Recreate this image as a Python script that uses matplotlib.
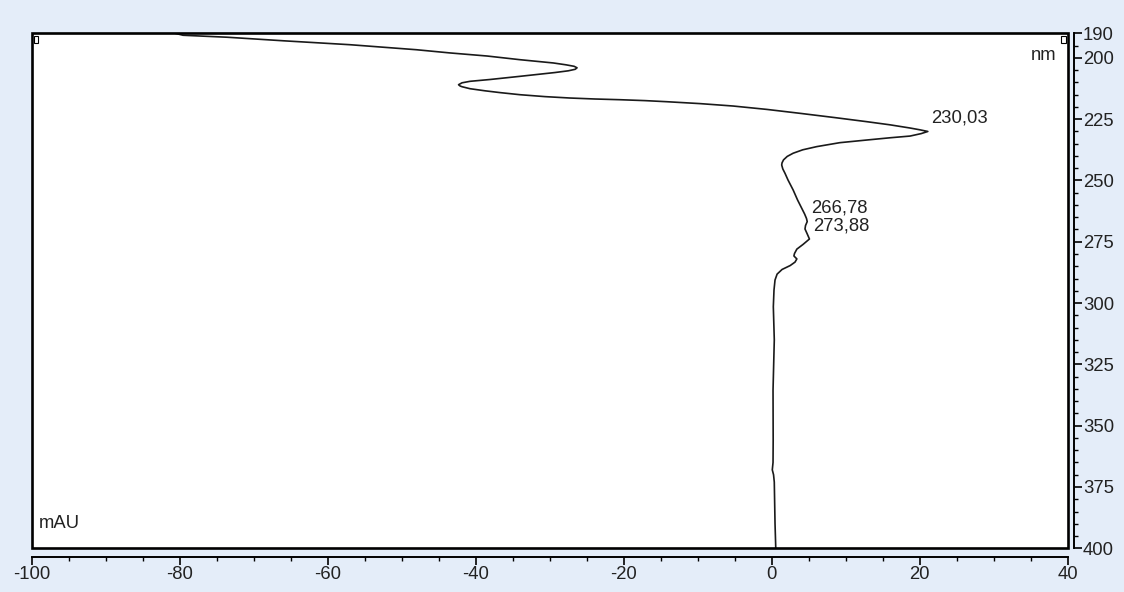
import matplotlib
matplotlib.use("Agg")
import matplotlib.pyplot as plt
from matplotlib.patches import Rectangle
from matplotlib.ticker import MultipleLocator, FixedLocator

plt.rcParams["axes.unicode_minus"] = False

# UV spectrum: absorbance (mAU) against wavelength (nm)
wavelength_nm = [190.0, 190.8, 191.6, 193.05, 194.65, 196.7, 198.0, 199.26, 200.77,
                 202.1, 202.85, 203.46, 204.07, 204.68, 205.3, 206.0, 207.54,
                 208.84, 209.58, 210.19, 210.96, 211.5, 211.78, 212.59, 213.45,
                 214.18, 215.04, 215.82, 216.39, 216.79, 217.08, 217.45, 217.9,
                 218.67, 219.65, 221.04, 222.63, 224.38, 226.05, 227.32, 228.62,
                 229.36, 230.03, 230.9, 231.9, 232.6, 233.5, 234.6, 236.2, 237.5,
                 238.9, 240.2, 241.6, 242.8, 243.7, 245.3, 247.1, 249.8, 253.9,
                 258.0, 261.3, 263.7, 265.5, 266.78, 268.4, 269.8, 271.6, 273.88,
                 274.9, 276.1, 278.0, 279.8, 280.8, 282.0, 283.3, 284.7, 286.3,
                 288.2, 290.6, 294.7, 301.5, 315.0, 335.5, 356.0, 365.0, 368.0,
                 370.0, 373.0, 390.0, 400.0]
absorbance_mau = [-80.6, -79.55, -73.6, -66.0, -57.0, -48.0, -43.5, -38.47, -34.0,
                  -29.5, -27.8, -26.7, -26.3, -26.56, -27.5, -29.3, -34.0,
                  -38.07, -40.77, -41.85, -42.32, -42.1, -41.85, -40.77, -38.74,
                  -36.72, -34.01, -30.64, -27.26, -23.88, -20.5, -17.12, -14.15,
                  -9.69, -5.23, -0.64, 3.82, 8.55, 12.88, 15.99, 18.69,
                  20.04, 21.1, 20.2, 18.7, 16.0, 12.9, 9.2, 6.1, 4.2,
                  2.9, 2.1, 1.6, 1.4, 1.35, 1.5, 1.8, 2.2, 2.9,
                  3.5, 4.05, 4.45, 4.7, 4.8, 4.57, 4.5, 4.77, 5.1,
                  4.7, 4.23, 3.4, 3.08, 3.0, 3.4, 3.15, 2.5, 1.4,
                  0.73, 0.45, 0.31, 0.22, 0.35, 0.18, 0.2, 0.18, 0.08,
                  0.25, 0.35, 0.45, 0.55]

peak_nm = [230.03, 266.78, 273.88]
peak_mau = [21.1, 4.8, 5.1]
peak_labels = ["230,03", "266,78", "273,88"]

x_ticks = [-100, -80, -60, -40, -20, 0, 20, 40]
y_ticks = [190, 200, 225, 250, 275, 300, 325, 350, 375, 400]

W, H, DPI = 1124, 592, 100
fig = plt.figure(figsize=(W / DPI, H / DPI), dpi=DPI)
fig.patch.set_facecolor("#E4EDF9")

left, right, top, bottom = 31.7, 1067.7, 33.3, 548.3
ax = fig.add_axes([left / W, 1 - bottom / H, (right - left) / W, (bottom - top) / H])
ax.set_facecolor("white")

ax.plot(absorbance_mau, wavelength_nm, color="#1a1a1a", lw=1.2,
        solid_joinstyle="round", zorder=3)

ax.set_xlim(-100, 40)
ax.set_ylim(400, 190)

FONT = "Liberation Sans"
FS = 13.3
text_kw = dict(family=FONT, fontsize=FS, color="#222222")

for xv, yv, lab in zip(peak_mau, peak_nm, peak_labels):
    ax.annotate(lab, (xv, yv), xytext=(2.5, 9.5), textcoords="offset points",
                ha="left", va="center", **text_kw)

ax.text(0.9895, 0.957, "nm", transform=ax.transAxes, ha="right", va="center", **text_kw)
ax.text(0.007, 0.048, "mAU", transform=ax.transAxes, ha="left", va="center", **text_kw)

# plot frame
for s in ("top", "left"):
    ax.spines[s].set_visible(False)
ax.add_patch(Rectangle((0, 0), 1, 1, transform=ax.transAxes, fill=False,
                       lw=1.9, edgecolor="black", clip_on=False, zorder=5))

# detached bottom and right scales
ax.spines["bottom"].set_position(("outward", 6.0))
ax.spines["right"].set_position(("outward", 4.3))
ax.spines["bottom"].set_linewidth(1.4)
ax.spines["right"].set_linewidth(1.4)
ax.yaxis.tick_right()
ax.yaxis.set_label_position("right")

ax.xaxis.set_major_locator(FixedLocator(x_ticks))
ax.xaxis.set_minor_locator(MultipleLocator(5))
ax.yaxis.set_major_locator(FixedLocator(y_ticks))
ax.yaxis.set_minor_locator(MultipleLocator(5))

ax.tick_params(axis="both", which="major", direction="out", length=5.5, width=1.2,
               color="black", labelsize=FS, labelcolor="#222222", pad=1.2)
ax.tick_params(axis="both", which="minor", direction="out", length=3, width=1.0,
               color="black")
for lab in ax.get_xticklabels() + ax.get_yticklabels():
    lab.set_family(FONT)

# small corner markers
for xa in (0.002, 0.994):
    ax.add_patch(Rectangle((xa, 0.982), 0.004, 0.013, transform=ax.transAxes,
                           fill=False, lw=0.8, edgecolor="black", clip_on=False, zorder=6))

fig.savefig("out.png", dpi=DPI, facecolor=fig.get_facecolor())
